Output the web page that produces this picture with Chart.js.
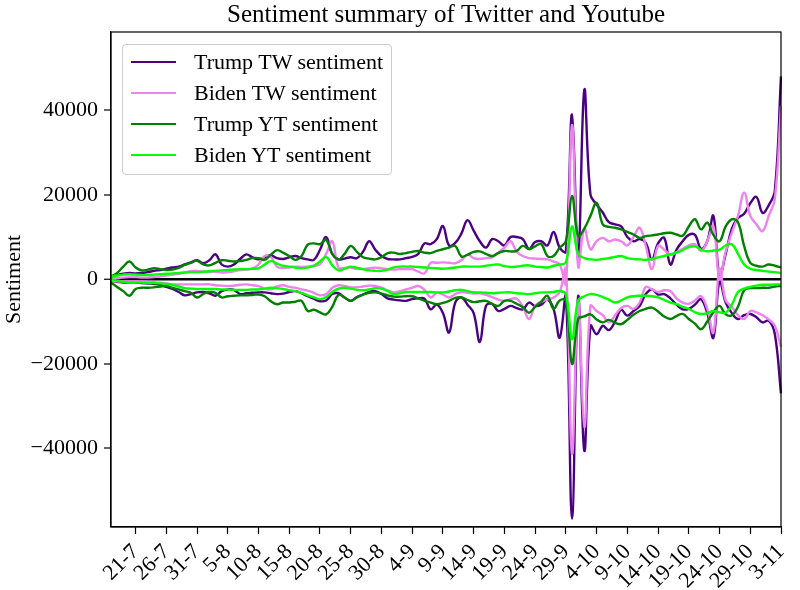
<!DOCTYPE html>
<html>
<head>
<meta charset="utf-8">
<script src="https://cdn.jsdelivr.net/npm/chart.js@4.4.0/dist/chart.umd.min.js"></script>
<style>
  html, body { margin: 0; padding: 0; background: #fff; }
  #wrap { position: relative; width: 800px; height: 590px; }
  #legend {
    position: absolute; left: 122px; top: 44px; width: 270px; height: 131px;
    box-sizing: border-box; border: 1px solid #cccccc; border-radius: 4px;
    background: rgba(255,255,255,0.85);
    font-family: 'Liberation Serif', 'Times New Roman', serif; font-size: 22px; color: #000;
  }
  .item { position: absolute; left: 0; height: 26px; line-height: 26px; white-space: nowrap; }
  .swatch { position: absolute; left: 8px; top: 12px; width: 45px; height: 0; border-top: 2.5px solid; }
  .txt { position: absolute; left: 71px; top: 0; }
</style>
</head>
<body>
<div id="wrap">
  <canvas id="grafica" width="800" height="590"></canvas>
  <div id="legend"></div>
</div>
<script>
// datos, un valor por dia desde 17-7
const tickLabels = ['21-7','26-7','31-7','5-8','10-8','15-8','20-8','25-8','30-8','4-9','9-9',
  '14-9','19-9','24-9','29-9','4-10','9-10','14-10','19-10','24-10','29-10','3-11'];
const yTicks = [-40000, -20000, 0, 20000, 40000];

const trumpTwPos = [600,1000,1300,1500,1400,1500,1700,2000,2200,2500,
  2800,3000,3500,4000,4500,3800,4500,5900,3500,3000,
  3500,4800,5900,5200,4700,5200,5700,5000,4800,5200,
  5500,5000,4700,4600,7000,10000,6000,4700,4900,5200,
  5000,6500,9000,7000,5500,4800,4700,4700,5000,5300,
  6000,8500,8300,9500,12600,8000,8600,10800,14000,11500,
  9000,7500,9500,9000,8000,10000,10000,9500,7200,8800,
  9000,8000,11200,7500,6500,39000,5000,44800,20000,17700,
  15800,13500,13000,12500,10000,9000,9500,8600,4700,8500,
  9800,3500,7000,9000,10500,10500,7200,9000,15000,800,
  6000,12000,14500,15500,18000,19500,15700,17500,21000,48000];
const trumpTwNeg = [-400,-600,-800,-800,-800,-900,-1000,-1100,-1300,-1800,
  -2300,-3000,-3800,-3500,-3100,-3000,-3300,-3900,-2800,-2400,
  -2500,-3500,-3300,-3200,-3100,-3100,-3300,-3500,-3400,-3000,
  -2800,-3300,-4000,-4600,-5200,-5000,-3500,-3300,-4300,-5100,
  -4200,-3600,-3000,-2800,-3500,-4500,-4800,-5000,-5100,-4700,
  -4500,-4600,-7100,-6000,-8000,-12600,-5500,-4300,-6000,-8000,
  -14800,-6300,-5800,-7500,-7000,-6300,-6800,-7100,-5500,-6300,
  -6000,-4800,-7000,-13800,-4000,-56600,-4000,-40600,-11000,-13000,
  -11000,-12000,-10000,-7200,-8600,-7500,-6300,-3500,-2400,-3600,
  -3500,-4500,-6000,-7100,-7000,-6000,-4700,-8000,-13800,-400,
  -5500,-8000,-9400,-8500,-8200,-9000,-10200,-9800,-13000,-27000];

const bidenTwPos = [300,300,400,500,500,400,400,500,700,900,
  1100,1300,1600,1900,2000,1800,1700,1800,1600,1700,
  1900,2200,2300,2500,3500,5500,5300,3000,2700,2800,
  3000,2900,3000,3200,3500,6000,9000,2800,2700,2750,
  2500,2400,2600,2750,2600,2400,2300,2400,2400,2400,
  1800,1400,3900,3900,4000,3900,3800,4500,5900,5000,
  4800,5000,5200,6300,7500,9000,6500,5500,5000,4900,
  4800,4700,4200,3500,-1000,36500,3000,12000,7100,9000,
  9800,9000,9400,9000,8000,10000,12200,7900,2400,7900,
  7000,5800,6400,7200,8000,8300,6700,9000,12600,0,
  6500,11000,15000,20500,15000,13000,11400,15000,19000,41000];
const bidenTwNeg = [-400,-500,-500,-500,-500,-500,-600,-700,-800,-1000,
  -1200,-1200,-1200,-1200,-1200,-1200,-1200,-1400,-1500,-1600,
  -1500,-1300,-1200,-1400,-1600,-2200,-2400,-1700,-1400,-1800,
  -2000,-2400,-2700,-3200,-3800,-3500,-2000,-1400,-1600,-1900,
  -1900,-1700,-1500,-1600,-2000,-2600,-3100,-2800,-2400,-2000,
  -1600,-2500,-4300,-3200,-3600,-4300,-3500,-3000,-3200,-3400,
  -3300,-3700,-4200,-4800,-5100,-4700,-4600,-6500,-9400,-6300,
  -5300,-4800,-4300,-3000,2400,-41300,-5100,-35000,-6300,-7500,
  -8500,-10200,-8500,-6800,-6300,-7000,-5500,-1800,-2400,-3000,
  -2600,-2800,-4500,-5500,-5800,-5000,-4000,-7000,-12600,2400,
  -5000,-6500,-8500,-9400,-7500,-7800,-8500,-9500,-11000,-16000];

const trumpYtPos = [600,1500,3000,4200,2800,2100,2300,2600,2400,2200,
  2300,2700,3400,3900,4400,3500,3300,3900,4500,4400,
  4200,4300,4600,5000,5000,4600,5800,6900,6300,5500,
  4600,5500,8200,8500,8300,9300,6000,4700,6000,7900,
  6500,5200,4900,4700,5200,6200,6300,6000,6200,6500,
  6700,6300,6200,6700,7100,7500,7900,5400,5800,6500,
  6600,6000,5500,6200,6700,6600,6700,7900,7100,7800,
  8300,5500,5500,7500,9000,19700,10200,12000,15000,18100,
  13000,12400,12200,11800,11200,10600,9800,10200,10400,10600,
  10900,11000,10600,10300,12500,14200,11800,13400,10500,9000,
  12500,14200,13500,7900,3900,3200,3000,3500,3200,2800];
const trumpYtNeg = [-800,-1800,-2800,-3900,-2300,-2000,-2000,-1900,-1700,-1600,
  -2000,-2400,-2800,-3200,-4300,-3500,-3000,-3200,-4300,-4000,
  -3900,-3800,-3800,-3700,-3600,-4000,-5200,-5900,-5500,-5500,
  -5300,-5100,-7500,-7200,-7800,-8300,-6500,-3700,-4300,-5100,
  -4300,-3600,-3200,-3100,-3400,-3800,-4100,-4100,-4000,-4000,
  -4500,-5100,-5500,-5900,-5600,-5100,-4400,-4300,-4900,-5400,
  -5200,-5100,-5800,-6300,-5100,-5100,-5800,-6600,-7900,-6500,
  -5300,-3900,-7000,-5000,-5000,-20000,-9400,-8800,-8300,-9500,
  -10200,-9600,-10300,-10600,-9600,-8400,-7500,-7000,-6700,-7600,
  -8800,-9400,-8700,-8200,-9400,-10500,-11800,-10000,-7800,-6300,
  -8300,-8500,-6500,-2600,-2100,-2100,-2000,-2000,-1700,-1600];

const bidenYtPos = [600,900,1100,1200,1100,1000,1000,1100,1200,1300,
  1400,1500,1600,1700,1700,1800,1900,2000,2100,2200,
  2300,2400,2400,2500,2600,3500,4300,3700,3200,3000,
  2800,2600,2800,3200,4200,5300,3300,2100,2500,3000,
  2700,2400,2100,2000,2000,2300,2800,3000,3000,3000,
  2900,2800,2700,2600,2500,2600,2800,3000,3000,3000,
  3000,3200,3400,3500,3100,2900,3000,3200,3300,3000,
  2900,2800,3200,3500,4000,12500,6000,5000,4700,4600,
  4800,5000,5300,5500,5000,4800,4700,4600,4800,5200,
  5500,5900,6300,6900,7600,7800,7000,6600,6800,7000,
  8000,8300,6000,3500,2500,2200,2000,1800,1700,1500];
const bidenYtNeg = [0,-300,-600,-800,-800,-800,-900,-900,-1000,-1100,
  -1300,-1700,-2100,-2200,-2300,-2300,-2300,-2300,-2400,-2400,
  -2500,-2500,-2500,-2400,-2400,-2200,-2000,-2100,-2300,-2600,
  -2800,-3200,-3800,-4300,-4700,-4200,-3000,-2200,-2000,-2200,
  -2500,-2600,-2400,-2100,-2200,-2800,-3500,-3300,-3000,-3000,
  -3000,-3000,-3000,-3100,-3100,-2900,-2600,-2500,-2800,-3100,
  -3100,-3200,-3300,-3200,-3100,-3100,-3300,-3400,-3500,-3300,
  -3100,-3100,-3000,-2800,-3500,-14200,-5000,-4000,-3500,-3700,
  -4200,-4800,-5500,-5000,-4300,-4000,-3900,-3900,-4000,-4300,
  -4900,-5500,-5900,-6500,-7000,-7800,-8200,-8000,-7500,-7800,
  -7900,-6000,-3000,-2200,-1800,-1500,-1300,-1300,-1200,-1200];

// etiquetas d-m de cada dia
const fechas = [];
for (let i = 0; i < trumpTwPos.length; i++) {
  const d = new Date(2020, 6, 17 + i);
  fechas.push(d.getDate() + '-' + (d.getMonth() + 1));
}

const series = [
  { label: 'Trump TW sentiment', color: '#4b0082', pos: trumpTwPos, neg: trumpTwNeg, order: 4 },
  { label: 'Biden TW sentiment', color: '#ee82ee', pos: bidenTwPos, neg: bidenTwNeg, order: 3 },
  { label: 'Trump YT sentiment', color: '#008000', pos: trumpYtPos, neg: trumpYtNeg, order: 2 },
  { label: 'Biden YT sentiment', color: '#00ff00', pos: bidenYtPos, neg: bidenYtNeg, order: 1 }
];

const datasets = [];
series.forEach(s => {
  [s.pos, s.neg].forEach(arr => {
    datasets.push({
      label: s.label,
      data: arr,
      borderColor: s.color,
      borderWidth: 2.4,
      pointRadius: 0,
      tension: 0.4,
      fill: false,
      order: s.order
    });
  });
});

Chart.defaults.font.family = "'Liberation Serif', 'Times New Roman', serif";
Chart.defaults.color = '#000';

const marco = {
  id: 'marco',
  afterDraw(chart) {
    const a = chart.chartArea;
    const c = chart.ctx;
    c.save();
    c.strokeStyle = '#000';
    c.lineWidth = 1.2;
    c.strokeRect(a.left, a.top, a.right - a.left, a.bottom - a.top);
    c.restore();
  }
};

const ctx = document.getElementById('grafica').getContext('2d');
const chart = new Chart(ctx, {
  type: 'line',
  data: { labels: fechas, datasets: datasets },
  plugins: [marco],
  options: {
    responsive: false,
    animation: false,
    layout: { padding: { left: 0, right: 19, top: 0, bottom: 0 } },
    plugins: {
      legend: { display: false },
      tooltip: { enabled: false },
      title: {
        display: true,
        text: 'Sentiment summary of Twitter and Youtube',
        fullSize: false,
        font: { size: 25, weight: 'normal' },
        padding: { top: 0, bottom: 2 }
      }
    },
    scales: {
      x: {
        type: 'category',
        afterFit: s => { s.height = 63; s.paddingLeft = 0; s.paddingRight = 0; },
        grid: { drawOnChartArea: false, tickLength: 7, tickColor: '#000', tickWidth: 1.2 },
        border: { display: true, color: '#000', width: 1.2 },
        ticks: {
          autoSkip: false,
          maxRotation: 45,
          minRotation: 45,
          padding: 5,
          font: { size: 22 },
          callback: function (val) {
            const lab = this.getLabelForValue(val);
            return tickLabels.includes(lab) ? lab : null;
          }
        }
      },
      y: {
        min: -58600,
        max: 58500,
        afterFit: s => { s.width = 111; },
        afterBuildTicks: s => { s.ticks = yTicks.map(v => ({ value: v })); },
        grid: {
          color: c => (c.tick && c.tick.value === 0) ? '#000' : 'rgba(0,0,0,0)',
          lineWidth: c => (c.tick && c.tick.value === 0) ? 2.5 : 0,
          tickLength: 7, tickColor: '#000', tickWidth: 1.2
        },
        border: { display: true, color: '#000', width: 1.2 },
        title: { display: true, text: 'Sentiment', font: { size: 22 }, padding: { top: 1, bottom: 0 } },
        ticks: {
          padding: 6,
          font: { size: 22 },
          callback: v => v < 0 ? '\u2212' + Math.abs(v) : String(v)
        }
      }
    }
  }
});

// leyenda propia: una entrada por serie
const leyenda = document.getElementById('legend');
series.forEach((s, i) => {
  const item = document.createElement('div');
  item.className = 'item';
  item.style.top = (4 + i * 31) + 'px';
  item.innerHTML = `<span class="swatch" style="border-color:${s.color}"></span><span class="txt">${s.label}</span>`;
  leyenda.appendChild(item);
});
</script>
</body>
</html>
